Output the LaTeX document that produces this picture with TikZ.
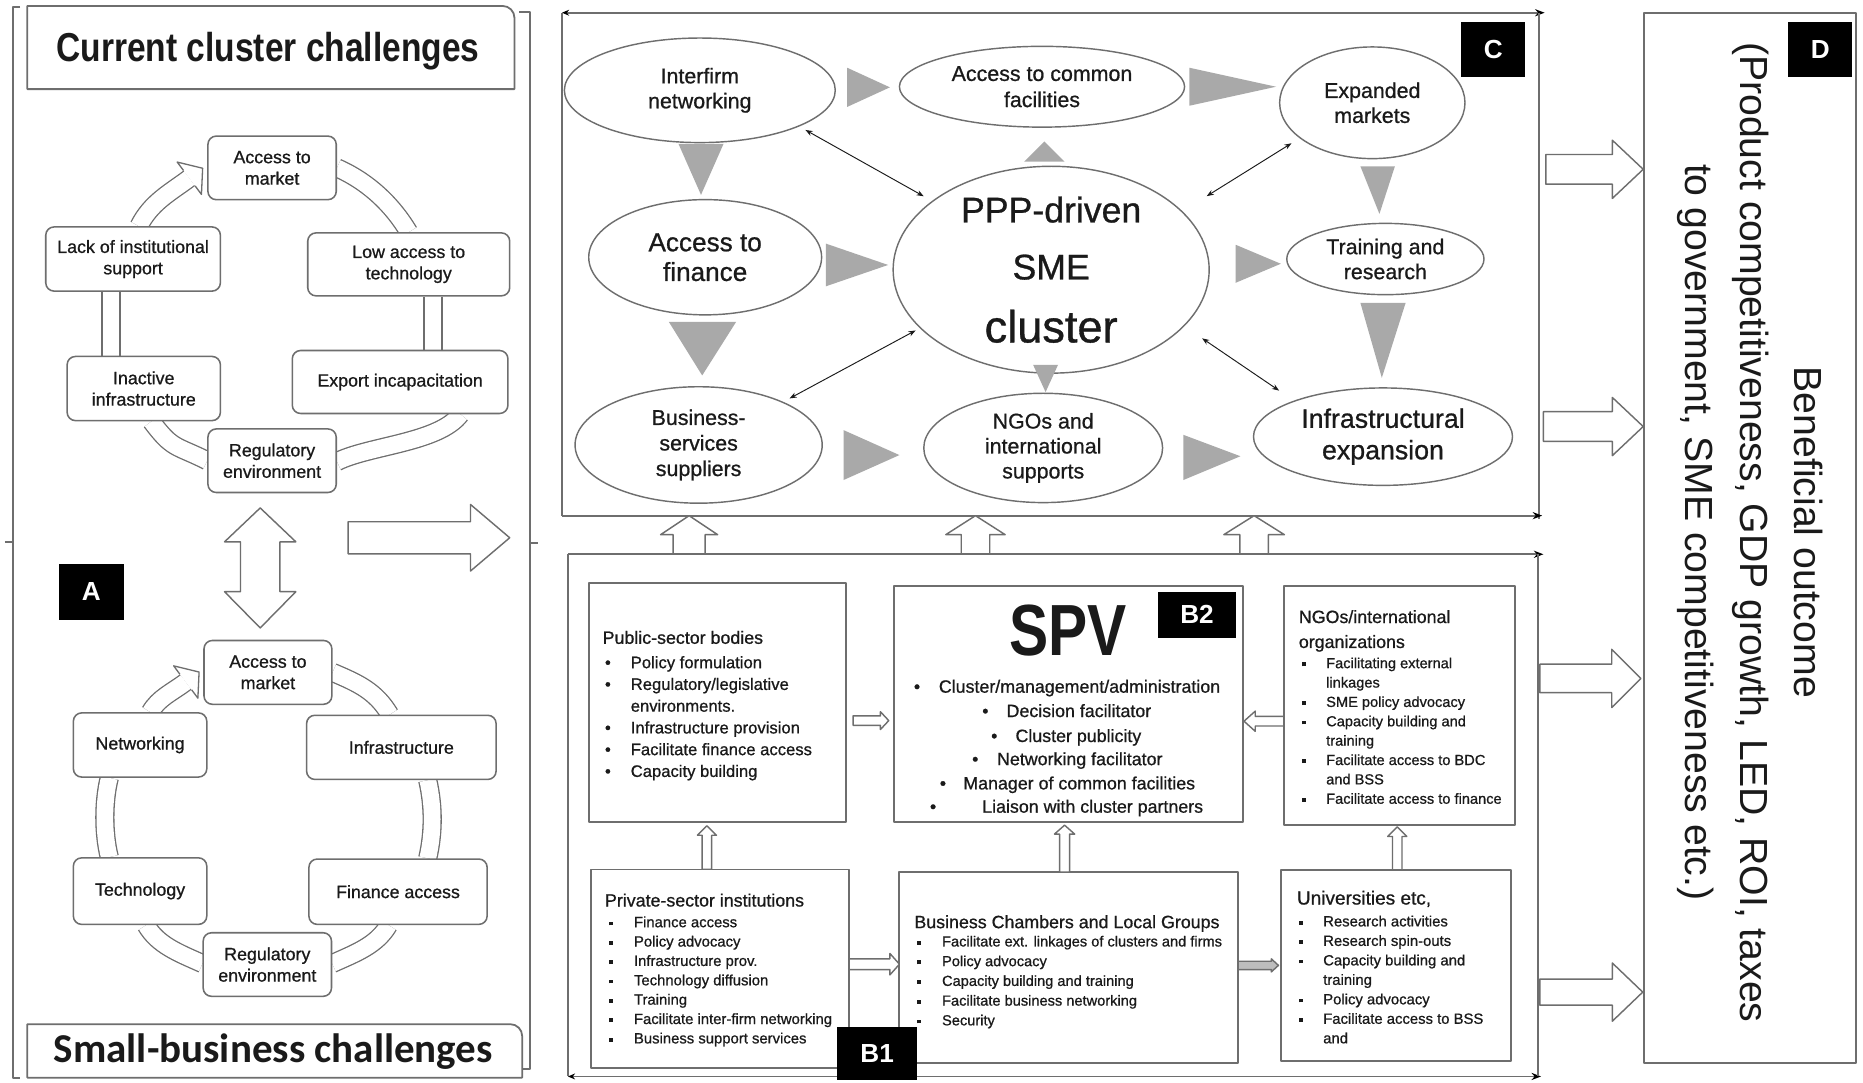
\documentclass[tikz,border=0pt]{standalone}
\usepackage{fontspec}
\setmainfont{Liberation Sans}
\newfontfamily\carlito{Carlito}
\newfontfamily\medf{Liberation Sans}[FakeBold=0.8]
\usepackage{graphicx}
\usetikzlibrary{shapes.geometric,arrows.meta,calc}
\pgfdeclarelayer{bg}
\pgfsetlayers{bg,main}

\definecolor{lineg}{HTML}{6E6E6E}
\definecolor{wedgeg}{HTML}{A9A9A9}
\definecolor{ink}{HTML}{1A1A1A}
\definecolor{barg}{HTML}{BDBDBD}

\newcommand\fs[2]{\fontsize{#1}{#2}\selectfont}
\newlength\bx
\newlength\bw
\newcommand\bsym{\textbullet}
\newcommand\sqb{\rule[1.6pt]{3.2pt}{3.2pt}}
\newcommand\bpt[1]{\hspace*{\bx}\makebox[\bw][l]{\bsym}#1}
\newcommand\bcont[1]{\hspace*{\bx}\hspace*{\bw}#1}
\newcommand\setb[3]{\setlength\bx{#1}\setlength\bw{#2}\renewcommand\bsym{#3}}
% hollow block arrows: [opts]{tail}{head base}{tip}{centre}{shaft half}{head half}
\newcommand\hblk[7][]{\filldraw[hollow,#1] (#2,#5-#6) -- (#3,#5-#6) -- (#3,#5-#7) -- (#4,#5) -- (#3,#5+#7) -- (#3,#5+#6) -- (#2,#5+#6) -- cycle;}
\newcommand\vblk[7][]{\filldraw[hollow,#1] (#5-#6,#2) -- (#5-#6,#3) -- (#5-#7,#3) -- (#5,#4) -- (#5+#7,#3) -- (#5+#6,#3) -- (#5+#6,#2) -- cycle;}

\begin{document}
\begin{tikzpicture}[x=1pt,y=-1pt,line join=round,
  fline/.style={draw=lineg,line width=1.5pt},
  cyc/.style={rectangle,draw=lineg,line width=1.3pt,rounded corners=7pt,fill=white,inner sep=0pt,align=center,font=\medf\fs{15}{18},text=ink},
  band/.style={draw=lineg,line width=1.1pt,double=white,double distance=14pt},
  hollow/.style={draw=lineg,line width=1.2pt,fill=white},
  ell/.style={ellipse,draw=lineg,line width=1.2pt,fill=white,inner sep=0pt,align=center,text=ink},
  bbox/.style={rectangle,draw=lineg,line width=1.6pt,fill=white,inner sep=0pt},
  tag/.style={rectangle,fill=black,text=white,inner sep=0pt,font=\fs{22}{22}\bfseries},
  link/.style={draw=ink,line width=0.8pt,{Stealth[length=6pt,width=4.5pt]}-{Stealth[length=6pt,width=4.5pt]}},
  txt/.style={inner sep=0pt,align=left,text=ink,anchor=north west},
  tip/.style={-{Stealth[length=8pt,width=6pt,color=black]}}]

\begin{pgfonlayer}{bg}
\fill[white] (0,0) rectangle (1568,911);
\end{pgfonlayer}
\useasboundingbox (0,0) rectangle (1568,911);

% ---------------- Panel A: challenges ----------------
\draw[fline] (17,6) -- (11,6) -- (11,907) -- (17,907);
\draw[fline] (4,456) -- (11,456);
\draw[fline] (437,10) -- (446,10) -- (446,900) -- (440,900);
\draw[fline] (446,457) -- (453,457);

\draw[fline] (23,75) -- (23,5) -- (423,5) arc[start angle=-90,end angle=0,radius=10] -- (433,75) -- cycle;
\node[anchor=base,text=ink,font=\fs{34}{40}\bfseries] (ttlA) at (225.5,52) {\scalebox{0.83}[1]{Current cluster challenges}};
\draw[fline] (23,907) -- (23,862) -- (429.5,862) arc[start angle=-90,end angle=0,radius=10] -- (439.5,907) -- cycle;
\node[anchor=base,text=ink,font=\carlito\bfseries\fs{34.5}{40}] (ttlB) at (230,894) {Small-business challenges};

% upper cycle
\node[cyc,minimum width=108pt,minimum height=53.5pt] (acc1) at (229,141.3) {Access to\\market};
\node[cyc,minimum width=147pt,minimum height=54pt] (lack1) at (112,218) {Lack of institutional\\support};
\node[cyc,minimum width=170pt,minimum height=53pt] (low1) at (344,222.5) {Low access to\\technology};
\node[cyc,minimum width=129pt,minimum height=54pt] (inact1) at (121,327) {Inactive\\infrastructure};
\node[cyc,minimum width=181.5pt,minimum height=53pt] (exp1) at (336.75,321.5) {Export incapacitation};
\node[cyc,minimum width=108pt,minimum height=53.5pt] (reg1) at (229,387.75) {Regulatory\\environment};
\coordinate (hA) at ($(acc1.west)+(-15,8.7)$);

% lower cycle
\node[cyc,minimum width=107.6pt,minimum height=53.7pt] (acc2) at (225.5,565.9) {Access to\\market};
\node[cyc,minimum width=112.3pt,minimum height=54pt] (net2) at (117.9,627) {Networking};
\node[cyc,minimum width=159.5pt,minimum height=54pt] (inf2) at (337.8,629) {Infrastructure};
\node[cyc,minimum width=112.3pt,minimum height=56pt] (tech2) at (117.9,750) {Technology};
\node[cyc,minimum width=150pt,minimum height=55pt] (fin2) at (335,750.5) {Finance access};
\node[cyc,minimum width=108pt,minimum height=53.5pt] (reg2) at (225,811.8) {Regulatory\\environment};
\coordinate (hB) at ($(acc2.west)+(-14.7,8.1)$);

\begin{pgfonlayer}{bg}
\draw[band] (acc1.east) .. controls +(25.6,11.3) and +(-14.4,-24) .. (low1.north);
\draw[band] ($(low1.south)+(20.5,0)$) -- ($(exp1.north)+(27.75,0)$);
\draw[band] ($(exp1.south)+(50.75,0)$) .. controls +(-18,24) and +(27,-13.5) .. ($(reg1.east)+(0,0.75)$);
\draw[band] (reg1.west) .. controls +(-27,-13.5) and +(18,24) .. ($(inact1.south)+(6.5,0)$);
\draw[band] ($(inact1.north)+(-27.5,0)$) -- ($(lack1.south)+(-18.5,0)$);
\draw[band] ($(lack1.north)+(5,0)$) .. controls +(10,-20) and +(-16,12) .. (hA);

\draw[band] (acc2.east) .. controls +(21,9) and +(-12,-20) .. ($(inf2.north)+(-9.8,0)$);
\draw[band] ($(inf2.south)+(22.2,0)$) .. controls +(5,22) and +(5,-22) .. ($(fin2.north)+(25,0)$);
\draw[band] ($(fin2.south)+(-8,0)$) .. controls +(-10,17) and +(20,-9) .. ($(reg2.east)+(0,-0.8)$);
\draw[band] ($(reg2.west)+(0,-0.8)$) .. controls +(-20,-9) and +(10,17) .. ($(tech2.south)+(5.1,0)$);
\draw[band] ($(tech2.north)+(-25.9,0)$) .. controls +(-5,-20) and +(-5,20) .. ($(net2.south)+(-25.9,0)$);
\draw[band] ($(net2.north)+(8.6,0)$) .. controls +(7,-12) and +(-12,9) .. (hB);
\end{pgfonlayer}

\filldraw[hollow,line width=1.1pt] ($(hA)+(4.9,6.5)$) -- ($(hA)+(10.2,13.6)$) -- ($(hA)+(11.2,-8.4)$) -- ($(hA)+(-10.2,-13.6)$) -- ($(hA)+(-4.9,-6.5)$);
\filldraw[hollow,line width=1.1pt] ($(hB)+(4.9,6.5)$) -- ($(hB)+(10.2,13.6)$) -- ($(hB)+(11.2,-8.4)$) -- ($(hB)+(-10.2,-13.6)$) -- ($(hB)+(-4.9,-6.5)$);

% link between the two cycles and towards the cluster
\filldraw[hollow] (219,427.5) -- (249,456) -- (235.6,456) -- (235.6,498) -- (249,498) -- (219,528.5) -- (189,498) -- (202.4,498) -- (202.4,456) -- (189,456) -- cycle;
\hblk{293}{396}{429}{452.6}{13.5}{28}

\node[tag,minimum width=54.5pt,minimum height=46.5pt] (labA) at (76.75,498.25) {A};

% ---------------- Panel C: PPP-driven cluster ----------------
\draw[fline] (473,434) -- (473,10.7);
\draw[fline,{Stealth[length=6pt,width=5pt,color=black]}-{Stealth[length=8pt,width=6pt,color=black]}] (473,10.7) -- (1300,10.7);
\draw[fline] (1295,10.7) -- (1295,437);
\draw[fline,tip] (473,434) -- (1298,434);

\node[ell,font=\medf\fs{18}{21},minimum width=228pt,minimum height=88pt] (inter) at (589,76) {Interfirm\\networking};
\node[ell,font=\medf\fs{18}{22},minimum width=240pt,minimum height=68pt] (common) at (877,73) {Access to common\\facilities};
\node[ell,font=\medf\fs{18}{21},minimum width=156pt,minimum height=94pt] (expand) at (1155,86.5) {Expanded\\markets};
\node[ell,font=\medf\fs{22}{25},minimum width=196pt,minimum height=97pt] (fin) at (593.5,216.5) {Access to\\finance};
\node[ell,font=\medf\fs{30}{48},minimum width=266pt,minimum height=158pt] (ppp) at (884.7,227) {PPP-driven\\SME\\[5pt]\fs{38}{48}cluster};
\node[ell,font=\medf\fs{18}{21},minimum width=166pt,minimum height=60pt] (train) at (1166,218) {Training and\\research};
\node[ell,font=\medf\fs{18}{21.5},minimum width=208pt,minimum height=98pt] (busi) at (588,374.5) {Business-\\services\\suppliers};
\node[ell,font=\medf\fs{18}{21},minimum width=201pt,minimum height=92pt] (ngo) at (878,377) {NGOs and\\international\\supports};
\node[ell,font=\medf\fs{22.5}{26.5},minimum width=218pt,minimum height=82pt] (infra) at (1164,367.5) {Infrastructural\\expansion};

\fill[wedgeg] (713,57) -- (749,73.5) -- (713,90) -- cycle;
\fill[wedgeg] (1001,57) -- (1074,73) -- (1001,89) -- cycle;
\fill[wedgeg] (862,136) -- (879,119) -- (896,136) -- cycle;
\fill[wedgeg] (571,121) -- (609,121) -- (590,164) -- cycle;
\fill[wedgeg] (695,205) -- (747.5,223) -- (695,241) -- cycle;
\fill[wedgeg] (563,271) -- (619.5,271) -- (591,316) -- cycle;
\fill[wedgeg] (869.5,307) -- (890.5,307) -- (880,330) -- cycle;
\fill[wedgeg] (710,362) -- (757,383) -- (710,404) -- cycle;
\fill[wedgeg] (996,366) -- (1044,384) -- (996,404) -- cycle;
\fill[wedgeg] (1145,140) -- (1174,140) -- (1161,180) -- cycle;
\fill[wedgeg] (1040,206) -- (1078,222) -- (1040,238) -- cycle;
\fill[wedgeg] (1145,255) -- (1183,255) -- (1163,318) -- cycle;

\draw[link,shorten <=6pt,shorten >=8pt] (inter.-20) -- (ppp.150);
\draw[link,shorten <=8pt,shorten >=24pt] (expand.206) -- (ppp.24.5);
\draw[link,shorten <=4pt,shorten >=6pt] (ppp.204) -- (busi.27.8);
\draw[link,shorten <=18pt,shorten >=15pt] (ppp.-23) -- (infra.158);

\node[tag,minimum width=53.6pt,minimum height=46.3pt] (labC) at (1256.8,41.3) {C};

% up-arrows from the partners to the cluster
\vblk{466.5}{450}{434}{580}{13.5}{24}
\vblk{466.5}{450}{434}{821}{12}{25}
\vblk{466.5}{450}{434}{1055.5}{12}{25.5}

% ---------------- Panel B: partners and SPV ----------------
\draw[fline,tip] (478,466.5) -- (1299,466.5);
\draw[fline] (478,466.5) -- (478,906);
\draw[fline,{Stealth[length=6pt,width=5pt,color=black]}-{Stealth[length=8pt,width=6pt,color=black]}] (478,906) -- (1297,906);
\draw[fline] (1294.6,466.5) -- (1294.6,906);

\node[bbox,minimum width=216pt,minimum height=201.5pt] (pub) at (604,591.25) {};
\node[bbox,minimum width=293.5pt,minimum height=199pt] (spv) at (899.25,592.5) {};
\node[bbox,minimum width=194.5pt,minimum height=201pt] (ngob) at (1177.75,593.5) {};
\node[bbox,minimum width=217pt,minimum height=167pt] (priv) at (606.1,815.3) {};
\node[bbox,minimum width=285pt,minimum height=161pt] (bcham) at (899.5,814.5) {};
\node[bbox,minimum width=194pt,minimum height=161pt] (univ) at (1175,812.5) {};

\node[txt,font={\medf\fs{14}{18.3}\setb{2pt}{21.7pt}{\textbullet}}] (pubtxt) at (507,530.8) {%
{\fs{15}{18.3}Public-sector bodies}\\[2.2pt]
\bpt{Policy formulation}\\
\bpt{Regulatory/legislative}\\
\bcont{environments.}\\
\bpt{Infrastructure provision}\\
\bpt{Facilitate finance access}\\
\bpt{Capacity building}};

\node[text=ink,font=\fs{61}{61}\bfseries,inner sep=0pt] (spvt) at (899,531) {\scalebox{0.81}[1]{SPV}};
\node[tag,minimum width=65pt,minimum height=39pt] (labB2) at (1007.5,517.5) {B2};
\node[anchor=base west,inner sep=0pt,text=ink,font=\medf\fs{15}{18}] (spv1) at (769,583) {\makebox[21pt][l]{\textbullet}Cluster/management/administration};
\node[anchor=base west,inner sep=0pt,text=ink,font=\medf\fs{15}{18}] (spv2) at (826.5,603.5) {\makebox[20.5pt][l]{\textbullet}Decision facilitator};
\node[anchor=base west,inner sep=0pt,text=ink,font=\medf\fs{15}{18}] (spv3) at (834,624.5) {\makebox[20.5pt][l]{\textbullet}Cluster publicity};
\node[anchor=base west,inner sep=0pt,text=ink,font=\medf\fs{15}{18}] (spv4) at (818,644) {\makebox[21pt][l]{\textbullet}Networking facilitator};
\node[anchor=base west,inner sep=0pt,text=ink,font=\medf\fs{15}{18}] (spv5) at (790.8,664.4) {\makebox[19.8pt][l]{\textbullet}Manager of common facilities};
\node[anchor=base west,inner sep=0pt,text=ink,font=\medf\fs{15}{18}] (spv6) at (782.5,684) {\makebox[44pt][l]{\textbullet}Liaison with cluster partners};

\node[txt,font={\medf\fs{12.3}{16.3}\setb{3pt}{20pt}{\sqb}}] (ngotxt) at (1093,513.3) {%
{\fs{15}{18}NGOs/international}\\[4.7pt]
{\fs{15}{18}organizations}\\[0.7pt]
\bpt{Facilitating external}\\
\bcont{linkages}\\
\bpt{SME policy advocacy}\\
\bpt{Capacity building and}\\
\bcont{training}\\
\bpt{Facilitate access to BDC}\\
\bcont{and BSS}\\
\bpt{Facilitate access to finance}};

\node[txt,font={\medf\fs{12.5}{16.3}\setb{3.6pt}{20.8pt}{\sqb}}] (privtxt) at (509,751.9) {%
{\fs{15}{18}Private-sector institutions}\\[1.1pt]
\bpt{Finance access}\\
\bpt{Policy advocacy}\\
\bpt{Infrastructure prov.}\\
\bpt{Technology diffusion}\\
\bpt{Training}\\
\bpt{Facilitate inter-firm networking}\\
\bpt{Business support services}};

\node[txt,font={\medf\fs{12.3}{16.6}\setb{2.6pt}{20.7pt}{\sqb}}] (bchtxt) at (769.4,770.1) {%
{\fs{15}{18}Business Chambers and Local Groups}\\[-1.2pt]
\bpt{Facilitate ext. linkages of clusters and firms}\\
\bpt{Policy advocacy}\\
\bpt{Capacity building and training}\\
\bpt{Facilitate business networking}\\
\bpt{Security}};

\node[txt,font={\medf\fs{12.5}{16.4}\setb{1.6pt}{20.5pt}{\sqb}}] (univtxt) at (1091.4,749.5) {%
{\fs{16}{18}Universities etc,}\\[2pt]
\bpt{Research activities}\\
\bpt{Research spin-outs}\\
\bpt{Capacity building and}\\
\bcont{training}\\
\bpt{Policy advocacy}\\
\bpt{Facilitate access to BSS}\\
\bcont{and}};

% arrows between the partner boxes and the SPV
\hblk{718}{741}{748}{606.5}{4}{7.5}
\hblk{1080.5}{1056.5}{1047}{607}{4}{8.5}
\vblk{731.6}{703}{695}{595}{4}{8}
\vblk{734}{702}{694.5}{896}{4.2}{8.5}
\vblk{732}{704}{696}{1176}{4}{8}
\hblk{714.7}{749}{757}{811.5}{4.5}{9}
\hblk[fill=barg]{1042}{1070}{1076}{812.5}{3.5}{5.5}

\node[tag,minimum width=67.5pt,minimum height=45pt] (labB1) at (738.25,886.5) {B1};

% ---------------- Panel D: outcome ----------------
\draw[fline] (1383.6,10.7) rectangle (1562,894.5);
\node[tag,minimum width=54pt,minimum height=46.3pt] (labD) at (1532,41.3) {D};
\node[rotate=-90,align=center,text=ink,font=\fs{33}{46},inner sep=0pt] (outcome) at (1473,448) {Beneficial outcome\\(Product competitiveness, GDP growth, LED, ROI, taxes\\to government, SME competitiveness etc.)};

\hblk{1301}{1357}{1383}{142.5}{12.5}{24.5}
\hblk{1299}{1357}{1383}{359}{12.5}{24.5}
\hblk{1296}{1356.5}{1381}{571}{12}{24.5}
\hblk{1296}{1357}{1382.6}{835}{11}{24.5}

\end{tikzpicture}
\end{document}
